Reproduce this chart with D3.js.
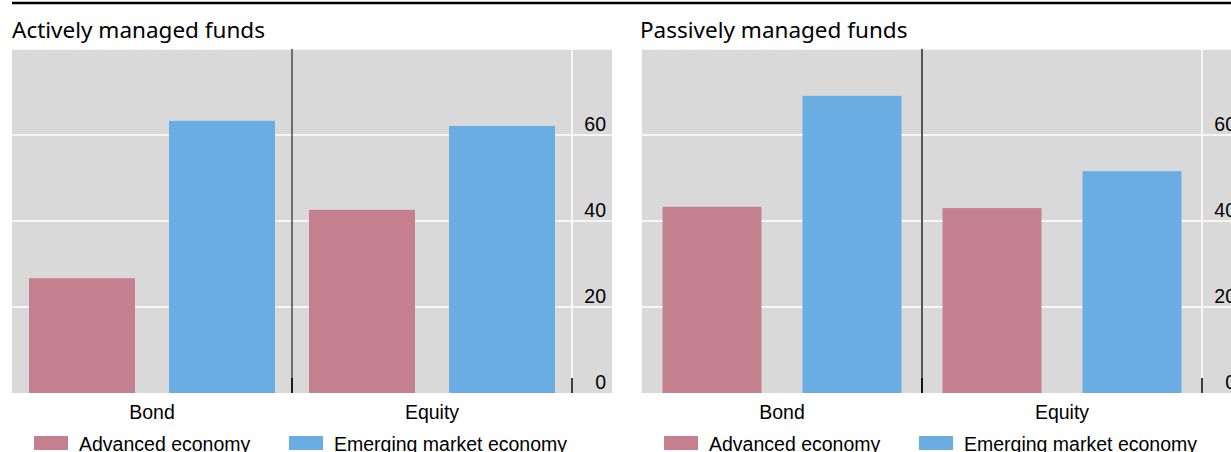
<!DOCTYPE html>
<html>
<head>
<meta charset="utf-8">
<script src="https://cdn.jsdelivr.net/npm/d3@7"></script>
<style>
  body { margin: 0; background: #fff; }
  svg { display: block; }
  .title { font-family: "Noto Sans", sans-serif; font-size: 22.5px; fill: #000; }
  .lbl { font-family: "Liberation Sans", Arial, sans-serif; font-size: 19.5px; fill: #000; }
</style>
</head>
<body>
<svg width="1231" height="452"></svg>
<script>
var categories = ["Bond", "Equity"];
var seriesNames = ["Advanced economy", "Emerging market economy"];
var seriesColors = ["#c4808f", "#6aade2"];
var yTicks = [0, 20, 40, 60];
var gridTicks = [20, 40, 60, 80];

// share of funds, per panel
var activeAdvanced = [26.7, 42.6];
var activeEmerging = [63.3, 62.1];
var passiveAdvanced = [43.3, 43.0];
var passiveEmerging = [69.1, 51.6];

var svg = d3.select('svg');

// thick rule across the top
svg.append('line')
  .attr('x1', 12).attr('x2', 1231)
  .attr('y1', 3).attr('y2', 3)
  .attr('stroke', '#000')
  .attr('stroke-width', 2.5);

var y = d3.scaleLinear().domain([0, 80]).range([393, 49]);

var panels = [
  { title: "Actively managed funds", left: 12, adv: activeAdvanced, em: activeEmerging,
    padIn: 34 / 140, padOut: 17 / 140, sepColor: '#000', sepWidth: 1 },
  { title: "Passively managed funds", left: 642, adv: passiveAdvanced, em: passiveEmerging,
    padIn: 41 / 140, padOut: 20.5 / 140, sepColor: '#555', sepWidth: 2 }
];

panels.forEach(function(p) {
  var g = svg.append('g').attr('transform', 'translate(' + p.left + ',0)');
  var plotW = 560, panelW = 600;

  var x0 = d3.scaleBand().domain(categories).range([0, plotW]);
  var x1 = d3.scaleBand().domain(seriesNames).range([0, x0.bandwidth()])
    .paddingInner(p.padIn).paddingOuter(p.padOut);

  g.append('text')
    .attr('class', 'title')
    .attr('x', p.left == 12 ? 0 : -2)
    .attr('y', 38)
    .text(p.title);

  // background
  g.append('rect')
    .attr('x', 0).attr('y', y(80))
    .attr('width', panelW).attr('height', y(0) - y(80))
    .attr('fill', '#d9d9d9');

  // horizontal grid
  g.selectAll('.grid')
    .data(gridTicks)
    .enter()
    .append('line')
    .attr('x1', 0).attr('x2', panelW)
    .attr('y1', function(d) { return y(d); })
    .attr('y2', function(d) { return y(d); })
    .attr('stroke', '#fff')
    .attr('stroke-width', 1.5);

  // vertical white line at axis position
  g.append('line')
    .attr('x1', plotW).attr('x2', plotW)
    .attr('y1', y(80)).attr('y2', y(0))
    .attr('stroke', '#fff')
    .attr('stroke-width', 1.5);

  var rows = categories.map(function(c, i) {
    return { cat: c, values: [p.adv[i], p.em[i]] };
  });

  var groups = g.selectAll('.grp')
    .data(rows)
    .enter()
    .append('g')
    .attr('transform', function(d) { return 'translate(' + x0(d.cat) + ',0)'; });

  groups.selectAll('rect')
    .data(function(d) {
      return d.values.map(function(v, j) { return { name: seriesNames[j], value: v, idx: j }; });
    })
    .enter()
    .append('rect')
    .attr('x', function(d) { return x1(d.name); })
    .attr('y', function(d) { return y(d.value); })
    .attr('width', x1.bandwidth())
    .attr('height', function(d) { return y(0) - y(d.value); })
    .attr('fill', function(d) { return seriesColors[d.idx]; });

  // separator between categories
  g.append('line')
    .attr('x1', x0('Equity')).attr('x2', x0('Equity'))
    .attr('y1', y(80)).attr('y2', y(0))
    .attr('stroke', p.sepColor)
    .attr('stroke-width', p.sepWidth);

  // bottom ticks
  g.selectAll('.btick')
    .data([x0('Equity'), plotW])
    .enter()
    .append('line')
    .attr('x1', function(d) { return d; })
    .attr('x2', function(d) { return d; })
    .attr('y1', y(0) - 15).attr('y2', y(0))
    .attr('stroke', '#000')
    .attr('stroke-width', 1.5);

  // y axis labels
  var yAxis = g.append('g')
    .attr('transform', 'translate(' + plotW + ',0)')
    .call(d3.axisRight(y).tickValues(yTicks).tickSize(0));
  yAxis.select('.domain').remove();
  yAxis.selectAll('text')
    .attr('class', 'lbl')
    .attr('font-family', null).attr('font-size', null)
    .attr('text-anchor', 'end')
    .attr('x', 34)
    .attr('dy', -5);

  // category axis
  var xAxis = g.append('g')
    .attr('transform', 'translate(0,' + y(0) + ')')
    .call(d3.axisBottom(x0).tickSize(0));
  xAxis.select('.domain').remove();
  xAxis.selectAll('text')
    .attr('class', 'lbl')
    .attr('font-family', null).attr('font-size', null)
    .attr('y', 26)
    .attr('dy', 0);

  // legend
  var legX = [22, 277];
  var leg = g.selectAll('.leg')
    .data(seriesNames)
    .enter()
    .append('g')
    .attr('transform', function(d, i) { return 'translate(' + legX[i] + ',436)'; });
  leg.append('rect')
    .attr('width', 34).attr('height', 14)
    .attr('fill', function(d, i) { return seriesColors[i]; });
  leg.append('text')
    .attr('class', 'lbl')
    .attr('x', 45).attr('y', 14.5)
    .text(function(d) { return d; });
});
</script>
</body>
</html>
